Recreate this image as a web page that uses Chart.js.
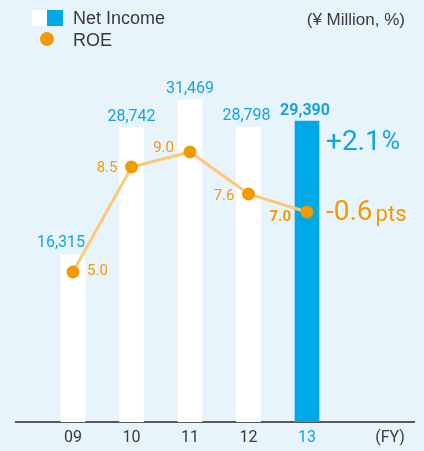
<!DOCTYPE html>
<html>
<head>
<meta charset="utf-8">
<script src="https://cdn.jsdelivr.net/npm/chart.js@4.4.1/dist/chart.umd.min.js"></script>
<style>
  html, body { margin: 0; padding: 0; background: #e7f4fc; }
  #wrap { width: 424px; height: 451px; position: relative; }
</style>
</head>
<body>
<div id="wrap"><canvas id="c" width="424" height="451"></canvas></div>
<script>
// ---- data ----
const categories = ['09', '10', '11', '12', '13'];
const netIncome = [16315, 28742, 31469, 28798, 29390];
const roe = [5.0, 8.5, 9.0, 7.6, 7.0];
const xTickLabels = ['09', '10', '11', '12', '13', '(FY)'];
const xTickPositions = [0, 1, 2, 3, 4, 5.42];
const legendLabels = ['Net Income', 'ROE'];
const unitLabel = '(\u00A5 Million, %)';
const incomeChange = ['+2.1', '%'];
const roeChange = ['-0.6', 'pts'];

// ---- styles ----
const BLUE = '#00a9e6';
const BLUE_TXT = '#16a3e0';
const ORANGE = '#f39a00';
const LINE = '#fcc878';
const GRAY = '#3a3a3a';
const NUM_FONT = 'Roboto, "Liberation Sans", sans-serif';
const TXT_FONT = '"Liberation Sans", Arial, sans-serif';

const barLabelStyle = [
  { dx: -12, dy: -12, bold: false },
  { dx: 0, dy: -11, bold: false },
  { dx: 0, dy: -11, bold: false },
  { dx: -2, dy: -11, bold: false },
  { dx: -2, dy: -10, bold: true }
];
const roeLabelStyle = [
  { dx: 14, dy: -1, align: 'left', bold: false },
  { dx: -14, dy: 1, align: 'right', bold: false },
  { dx: -16, dy: -4, align: 'right', bold: false },
  { dx: -14, dy: 2, align: 'right', bold: false },
  { dx: -16, dy: 5, align: 'right', bold: true }
];

const fmt = new Intl.NumberFormat('en-US');

const labelPlugin = {
  id: 'labels',
  afterDatasetsDraw(chart) {
    const ctx = chart.ctx;
    ctx.save();
    ctx.textBaseline = 'middle';
    const barMeta = chart.getDatasetMeta(0);
    barMeta.data.forEach((el, i) => {
      const s = barLabelStyle[i];
      ctx.font = (s.bold ? 'bold ' : '') + '16px ' + NUM_FONT;
      ctx.fillStyle = BLUE_TXT;
      ctx.textAlign = 'center';
      ctx.fillText(fmt.format(netIncome[i]), el.x + s.dx, el.y + s.dy);
    });
    const lineMeta = chart.getDatasetMeta(1);
    lineMeta.data.forEach((el, i) => {
      const s = roeLabelStyle[i];
      ctx.font = (s.bold ? 'bold ' : '') + '15px ' + NUM_FONT;
      ctx.fillStyle = ORANGE;
      ctx.textAlign = s.align;
      ctx.fillText(roe[i].toFixed(1), el.x + s.dx, el.y + s.dy);
    });
    const lastBar = barMeta.data[barMeta.data.length - 1];
    const lastPt = lineMeta.data[lineMeta.data.length - 1];
    ctx.textAlign = 'left';
    let x = lastBar.x + 19;
    ctx.fillStyle = BLUE_TXT;
    ctx.font = '28px ' + NUM_FONT;
    ctx.fillText(incomeChange[0], x, lastBar.y + 22);
    x += ctx.measureText(incomeChange[0]).width + 1;
    ctx.font = '25px ' + NUM_FONT;
    ctx.fillText(incomeChange[1], x, lastBar.y + 22);

    x = lastBar.x + 19;
    ctx.fillStyle = ORANGE;
    ctx.font = '28px ' + NUM_FONT;
    ctx.fillText(roeChange[0], x, lastPt.y + 1);
    x += ctx.measureText(roeChange[0]).width + 3;
    ctx.font = '22px ' + NUM_FONT;
    ctx.fillText(roeChange[1], x, lastPt.y + 3);
    ctx.restore();
  },
  afterDraw(chart) {
    const ctx = chart.ctx;
    ctx.save();
    ctx.fillStyle = '#ffffff';
    ctx.fillRect(32, 10, 15, 16);
    ctx.fillStyle = BLUE;
    ctx.fillRect(47, 10, 16, 16);
    ctx.fillStyle = ORANGE;
    ctx.beginPath();
    ctx.arc(47, 39, 7, 0, Math.PI * 2);
    ctx.fill();
    ctx.fillStyle = GRAY;
    ctx.font = '18px ' + TXT_FONT;
    ctx.textBaseline = 'middle';
    ctx.textAlign = 'left';
    ctx.fillText(legendLabels[0], 73, 19);
    ctx.fillText(legendLabels[1], 73, 41);
    ctx.font = '17px ' + TXT_FONT;
    ctx.textAlign = 'right';
    ctx.fillText(unitLabel, 405, 20);
    ctx.restore();
  }
};

const PX_PER_CAT = 58.5;
const LEFT = 16, RIGHT = 414, TOP = 10, BOTTOM = 422;
const xMin = -(73 - LEFT) / PX_PER_CAT;
const xMax = xMin + (RIGHT - LEFT) / PX_PER_CAT;
const yMax = (BOTTOM - TOP) / 0.010235;
const y2Max = (BOTTOM - TOP) / 30;

new Chart(document.getElementById('c'), {
  data: {
    labels: categories,
    datasets: [
      {
        type: 'bar',
        label: legendLabels[0],
        data: netIncome.map((v, i) => ({ x: i, y: v })),
        backgroundColor: netIncome.map((v, i) => i === netIncome.length - 1 ? BLUE : '#ffffff'),
        barThickness: 24,
        borderWidth: 0,
        yAxisID: 'y',
        order: 1
      },
      {
        type: 'line',
        label: legendLabels[1],
        data: roe.map((v, i) => ({ x: i, y: v })),
        borderColor: LINE,
        borderWidth: 3,
        pointRadius: 6.5,
        pointBackgroundColor: ORANGE,
        pointBorderWidth: 0,
        tension: 0,
        yAxisID: 'y2',
        order: 0
      }
    ]
  },
  options: {
    responsive: false,
    animation: false,
    devicePixelRatio: 1,
    layout: { padding: { left: LEFT, right: 424 - RIGHT, top: TOP, bottom: 0 } },
    plugins: { legend: { display: false }, tooltip: { enabled: false } },
    scales: {
      x: {
        type: 'linear',
        offset: false,
        min: xMin,
        max: xMax,
        grid: { display: false, drawTicks: false, offset: false },
        border: { display: true, color: '#5a5a5a', width: 2 },
        afterBuildTicks: (scale) => { scale.ticks = xTickPositions.map(v => ({ value: v })); },
        afterFit: (scale) => { scale.height = 451 - BOTTOM; },
        ticks: {
          autoSkip: false,
          maxRotation: 0,
          padding: 6,
          font: { size: 16, family: 'Roboto' },
          color: (c) => c.index === 4 ? BLUE_TXT : GRAY,
          callback: (v, i) => xTickLabels[i]
        }
      },
      y: { display: false, min: 0, max: yMax },
      y2: { display: false, min: 0, max: y2Max, position: 'right' }
    }
  },
  plugins: [labelPlugin]
});
</script>
</body>
</html>
